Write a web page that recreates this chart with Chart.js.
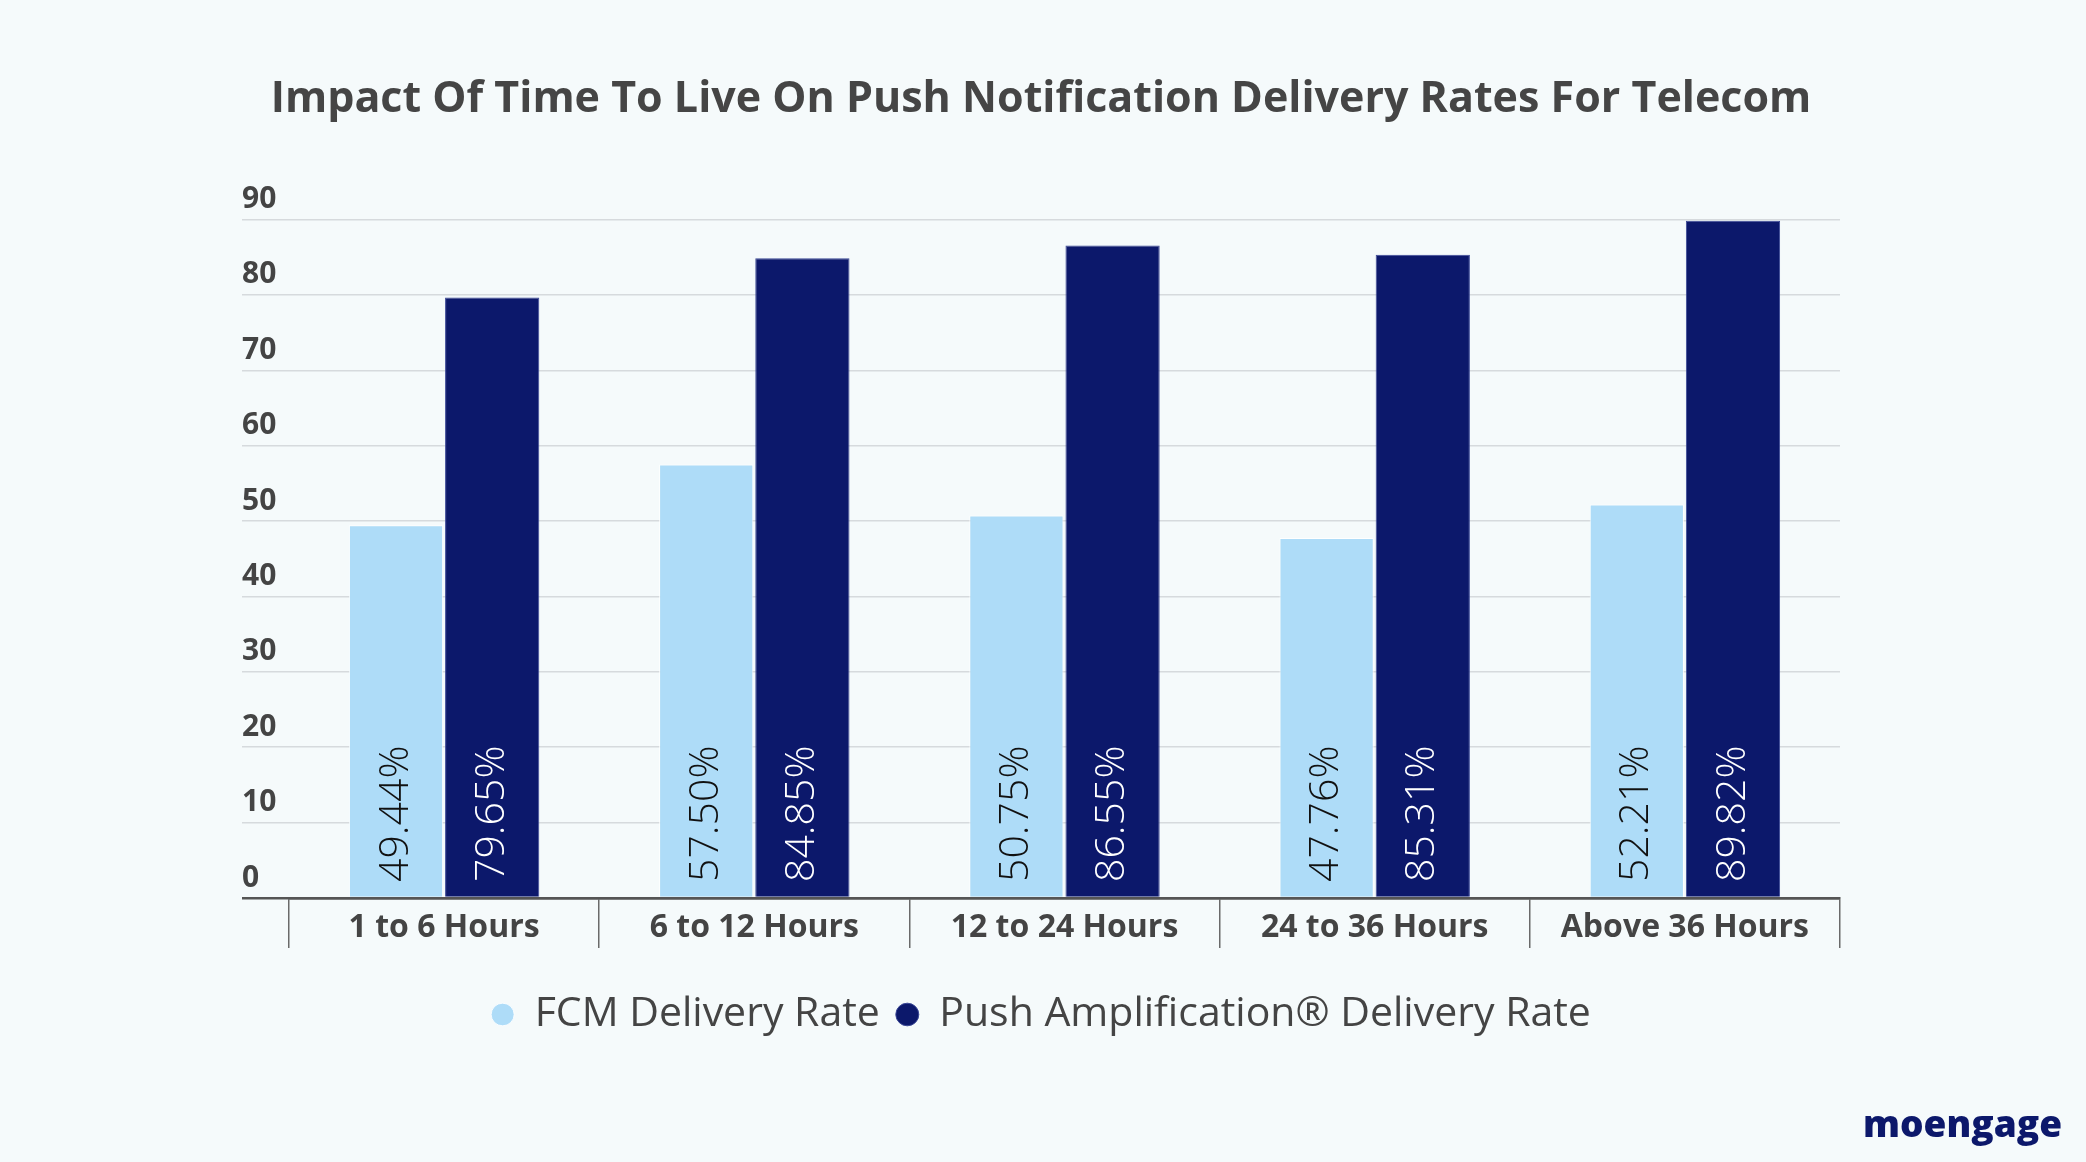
<!DOCTYPE html>
<html>
<head>
<meta charset="utf-8">
<title>Impact Of Time To Live On Push Notification Delivery Rates For Telecom</title>
<script src="https://cdn.jsdelivr.net/npm/chart.js@4.4.1/dist/chart.umd.min.js"></script>
<style>
  html, body { margin: 0; padding: 0; background: #f5fafb; }
  #wrap { width: 2086px; height: 1162px; position: relative; }
</style>
</head>
<body>
<div id="wrap"><canvas id="ttlChart"></canvas></div>
<script>
const categories = ['1 to 6 Hours', '6 to 12 Hours', '12 to 24 Hours', '24 to 36 Hours', 'Above 36 Hours'];
const fcmRates = [49.44, 57.50, 50.75, 47.76, 52.21];
const pushAmpRates = [79.65, 84.85, 86.55, 85.31, 89.82];
const yTicks = [0, 10, 20, 30, 40, 50, 60, 70, 80, 90];
const seriesNames = ['FCM Delivery Rate', 'Push Amplification® Delivery Rate'];

const FONT = "'Open Sans', 'Noto Sans', sans-serif";
const LIGHT = '#aedcf8';
const NAVY = '#0c186b';

// vertical value labels at the foot of each bar
const barLabels = {
    id: 'barLabels',
    afterDatasetsDraw(chart) {
        const ctx = chart.ctx;
        const base = chart.scales.y.getPixelForValue(0);
        chart.data.datasets.forEach((ds, i) => {
            chart.getDatasetMeta(i).data.forEach((bar, j) => {
                ctx.save();
                ctx.translate(bar.x, base - 16);
                ctx.rotate(-Math.PI / 2);
                ctx.font = "300 41px " + FONT;
                ctx.fillStyle = i === 0 ? '#111111' : '#ffffff';
                ctx.textAlign = 'left';
                ctx.textBaseline = 'middle';
                ctx.fillText(ds.data[j].toFixed(2) + '%', 0, 0);
                ctx.restore();
            });
        });
    }
};

// brand mark, bottom right
const brandMark = {
    id: 'brandMark',
    afterDraw(chart) {
        const ctx = chart.ctx;
        ctx.save();
        ctx.font = "800 37px " + FONT;
        ctx.fillStyle = NAVY;
        ctx.textAlign = 'right';
        ctx.textBaseline = 'alphabetic';
        ctx.fillText('moengage', 2062, 1137);
        ctx.restore();
    }
};

const ctx = document.getElementById('ttlChart').getContext('2d');
const ttlChart = new Chart(ctx, {
    type: 'bar',
    data: {
        labels: categories,
        datasets: [{
            label: seriesNames[0],
            data: fcmRates,
            backgroundColor: LIGHT,
            borderColor: 'rgba(255,255,255,0.85)',
            borderWidth: 1
        }, {
            label: seriesNames[1],
            data: pushAmpRates,
            backgroundColor: NAVY,
            borderColor: '#3a4796',
            borderWidth: 1
        }]
    },
    options: {
        responsive: true,
        maintainAspectRatio: false,
        animation: false,
        categoryPercentage: 0.62,
        barPercentage: 0.98,
        layout: {
            padding: { left: 242, right: 246, top: 0, bottom: 117 }
        },
        plugins: {
            title: {
                display: true,
                text: 'Impact Of Time To Live On Push Notification Delivery Rates For Telecom',
                color: '#454545',
                font: { family: FONT, size: 43, weight: 'bold', lineHeight: 1.2 },
                padding: { top: 74, bottom: 93.9 }
            },
            legend: {
                position: 'bottom',
                labels: {
                    usePointStyle: true,
                    pointStyle: 'circle',
                    pointStyleWidth: 23,
                    boxHeight: 16,
                    padding: 16,
                    color: '#444444',
                    font: { family: FONT, size: 41 }
                }
            },
            tooltip: { enabled: false }
        },
        scales: {
            x: {
                z: 1,
                grid: {
                    offset: true,
                    drawOnChartArea: false,
                    drawTicks: true,
                    tickLength: 50,
                    color: '#6a6a6a',
                    lineWidth: 1.5
                },
                border: { display: true, color: '#555555', width: 2.5 },
                ticks: {
                    padding: -39,
                    color: '#444444',
                    font: { family: FONT, size: 32, weight: 'bold' }
                },
                afterFit: axis => { axis.height = 80; }
            },
            y: {
                min: 0,
                max: 90,
                afterBuildTicks: axis => { axis.ticks = yTicks.map(v => ({ value: v })); },
                grid: {
                    drawTicks: true,
                    tickLength: 47,
                    color: c => (c.tick && c.tick.value === 0) ? '#555555' : '#d6dadd',
                    lineWidth: c => (c.tick && c.tick.value === 0) ? 2.5 : 1.5
                },
                border: { display: false },
                ticks: {
                    crossAlign: 'far',
                    labelOffset: -20,
                    padding: 0,
                    color: '#444444',
                    font: { family: FONT, size: 30, weight: 'bold' }
                },
                afterFit: axis => { axis.width = 47; }
            }
        }
    },
    plugins: [barLabels, brandMark]
});
</script>
</body>
</html>
